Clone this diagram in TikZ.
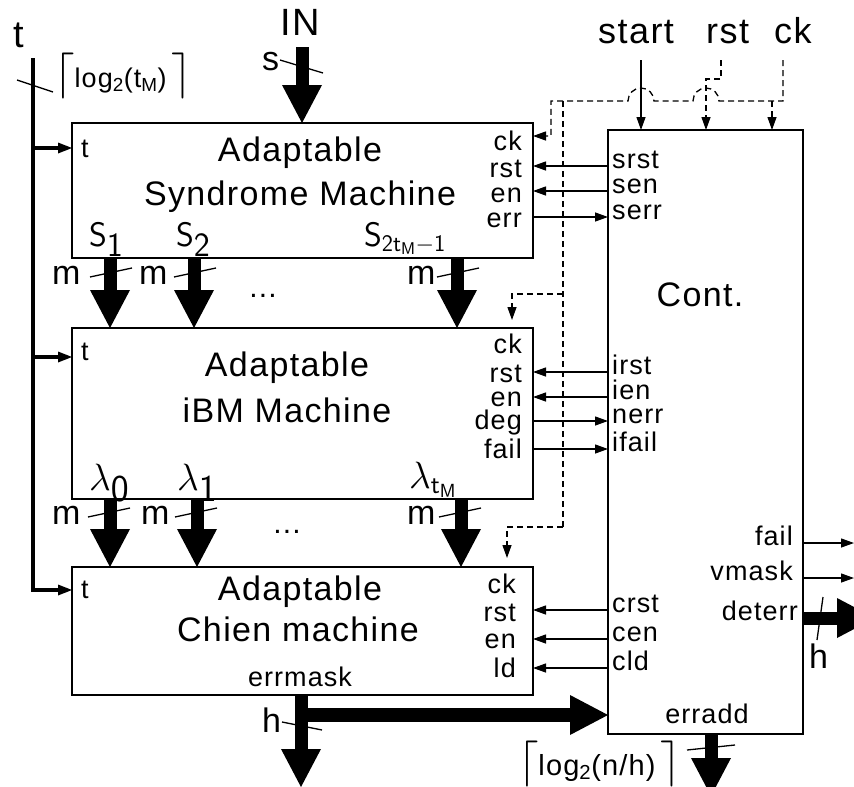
\RequirePackage{fix-cm}
\documentclass[tikz,border=0pt]{standalone}
\usepackage[no-math]{fontspec}
\newfontfamily\hv[LetterSpace=4]{Liberation Sans}
\usetikzlibrary{arrows.meta,calc}
\newcommand{\fsz}[1]{\fontsize{#1}{#1}\selectfont}
\newcommand{\ceil}[1]{{\fsz{46}$\lceil$}#1\,{\fsz{46}$\rceil$}}

\begin{document}
\begin{tikzpicture}[x=1pt,y=-1pt,
  box/.style={draw,line width=1.6pt,inner sep=0pt,outer sep=0pt},
  lbl/.style={inner sep=0pt,font=\hv\fsz{27}},
  ttl/.style={inner sep=0pt,font=\hv\fsz{34}},
  big/.style={inner sep=0pt,font=\hv\fsz{34}},
  mth/.style={inner sep=0pt,font=\fsz{34}},
  sig/.style={line width=1.3pt,-{Triangle[length=13pt,width=9pt]}},
  dsh/.style={line width=1.3pt,dash pattern=on 6pt off 4pt},
  clk/.style={dsh,-{Triangle[length=13pt,width=9pt]}},
  wide/.style={line width=13pt,-{Triangle[length=38pt,width=40pt,line width=0pt]}},
  tarr/.style={line width=3.5pt,-{Triangle[length=14pt,width=11pt,line width=0pt]}},
  slash/.style={line width=1.3pt}]
  \useasboundingbox (0,0) rectangle (854,787);
  \clip (0,0) rectangle (854,787);

  % boxes
  \node[box,minimum width=461pt,minimum height=135pt] (synd) at (302.5,190.5) {};
  \node[box,minimum width=461pt,minimum height=171pt] (ibm) at (302.5,413.5) {};
  \node[box,minimum width=461pt,minimum height=128pt] (chien) at (302.5,631) {};
  \node[box,minimum width=195pt,minimum height=604pt] (cont) at (705.5,432) {};

  % top inputs
  \node[big,font=\hv\fsz{38},anchor=base west] (tin) at (13,47) {t};
  \node[big,font=\hv\fsz{38},anchor=base] (innode) at (300,35) {IN};
  \node[big,font=\hv\fsz{36},anchor=base west] (startlbl) at (598,43) {start};
  \node[big,font=\hv\fsz{36},anchor=base west] (rstlbl) at (706,43) {rst};
  \node[big,font=\hv\fsz{36},anchor=base west] (cklbl) at (774,43) {ck};

  % syndrome machine
  \node[ttl,anchor=base] (syndA) at (300,161) {Adaptable};
  \node[ttl,anchor=base] (syndB) at (300,205) {Syndrome Machine};
  \node[lbl,anchor=base west] (syndT) at (81,157) {t};
  \node[lbl,anchor=base east] (syndCk) at (522,150) {ck};
  \node[lbl,anchor=base east] (syndRst) at (522,177) {rst};
  \node[lbl,anchor=base east] (syndEn) at (522,202) {en};
  \node[lbl,anchor=base east] (syndErr) at (522,227) {err};
  \node[mth,anchor=base west] (s1) at (89,246) {$\mathsf{S}_{\textstyle\mathsf{1}}$};
  \node[mth,anchor=base west] (s2) at (176,246) {$\mathsf{S}_{\textstyle\mathsf{2}}$};
  \node[mth,anchor=base west] (s3) at (364,246) {$\mathsf{S}_{\mathsf{2t_M-1}}$};

  % iBM machine
  \node[ttl,anchor=base] (ibmA) at (287,376) {Adaptable};
  \node[ttl,anchor=base] (ibmB) at (287,422) {iBM Machine};
  \node[lbl,anchor=base west] (ibmT) at (81,360) {t};
  \node[lbl,anchor=base east] (ibmCk) at (522,353) {ck};
  \node[lbl,anchor=base east] (ibmRst) at (522,382) {rst};
  \node[lbl,anchor=base east] (ibmEn) at (522,406) {en};
  \node[lbl,anchor=base east] (ibmDeg) at (522,429) {deg};
  \node[lbl,anchor=base east] (ibmFail) at (522,458) {fail};
  \node[mth,font=\fsz{38},anchor=base west] (l0) at (89,490) {$\lambda_{\textstyle\mathsf{0}}$};
  \node[mth,font=\fsz{38},anchor=base west] (l1) at (177,490) {$\lambda_{\textstyle\mathsf{1}}$};
  \node[mth,font=\fsz{38},anchor=base west] (l2) at (409,488) {$\lambda_{\mathsf{t_M}}$};

  % Chien machine
  \node[ttl,anchor=base] (chienA) at (300,600) {Adaptable};
  \node[ttl,anchor=base] (chienB) at (298,641) {Chien machine};
  \node[lbl,anchor=base] (chienMask) at (300,686) {errmask};
  \node[lbl,anchor=base west] (chienT) at (81,598) {t};
  \node[lbl,anchor=base east] (chienCk) at (516,593) {ck};
  \node[lbl,anchor=base east] (chienRst) at (516,621) {rst};
  \node[lbl,anchor=base east] (chienEn) at (516,648) {en};
  \node[lbl,anchor=base east] (chienLd) at (516,677) {ld};

  % controller
  \node[ttl,anchor=base] (contT) at (700,306) {Cont.};
  \node[lbl,anchor=mid west] (srst) at (612,166) {srst};
  \node[lbl,anchor=mid west] (sen) at (612,191) {sen};
  \node[lbl,anchor=mid west] (serr) at (612,217) {serr};
  \node[lbl,anchor=mid west] (irst) at (612,372) {irst};
  \node[lbl,anchor=mid west] (ien) at (612,397) {ien};
  \node[lbl,anchor=mid west] (nerr) at (612,421) {nerr};
  \node[lbl,anchor=mid west] (ifail) at (612,449) {ifail};
  \node[lbl,anchor=mid west] (crst) at (612,610) {crst};
  \node[lbl,anchor=mid west] (cen) at (612,639) {cen};
  \node[lbl,anchor=mid west] (cld) at (612,668) {cld};
  \node[lbl,anchor=mid east] (cfail) at (793,543) {fail};
  \node[lbl,anchor=mid east] (vmask) at (793,578) {vmask};
  \node[lbl,anchor=mid east] (deterr) at (798,618) {deterr};
  \node[lbl,anchor=base] (erradd) at (707,723) {erradd};

  % control signals
  \draw[sig] (srst.mid west -| cont.west) -- (srst.mid west -| synd.east);
  \draw[sig] (sen.mid west -| cont.west) -- (sen.mid west -| synd.east);
  \draw[sig] (serr.mid west -| synd.east) -- (serr.mid west -| cont.west);
  \draw[sig] (irst.mid west -| cont.west) -- (irst.mid west -| ibm.east);
  \draw[sig] (ien.mid west -| cont.west) -- (ien.mid west -| ibm.east);
  \draw[sig] (nerr.mid west -| ibm.east) -- (nerr.mid west -| cont.west);
  \draw[sig] (ifail.mid west -| ibm.east) -- (ifail.mid west -| cont.west);
  \draw[sig] (crst.mid west -| cont.west) -- (crst.mid west -| chien.east);
  \draw[sig] (cen.mid west -| cont.west) -- (cen.mid west -| chien.east);
  \draw[sig] (cld.mid west -| cont.west) -- (cld.mid west -| chien.east);
  \draw[sig] (cfail.mid east -| cont.east) -- (cfail.mid east -| 854,0);
  \draw[sig] (vmask.mid east -| cont.east) -- (vmask.mid east -| 854,0);

  % start, rst, ck
  \coordinate (startin) at (641,60);
  \coordinate (rstin) at (721,60);
  \coordinate (rstbend) at (706,79);
  \coordinate (ckin) at (783,60);
  \coordinate (ckrow) at (783,101);
  \coordinate (cksyn) at (551,136);
  \coordinate (ckcont) at (772,101);
  \coordinate (ckbus) at (563,101);
  \coordinate (ckibm) at (512,294);
  \coordinate (ckchi) at (507,527);
  \draw[sig] (startin) -- (startin |- cont.north);
  \draw[clk] (rstin) -- (rstin |- rstbend) -- (rstbend) -- (rstbend |- cont.north);
  \draw[clk] (ckin) -- (ckrow) -- ($(rstbend |- ckrow)+(13,0)$)
    arc[start angle=0,end angle=-180,radius=13] -- ($(startin |- ckrow)+(13,0)$)
    arc[start angle=0,end angle=-180,radius=13] -- (cksyn |- ckrow) -- (cksyn) -- (cksyn -| synd.east);
  \draw[clk] (ckcont) -- (ckcont |- cont.north);
  \draw[dsh] (ckbus) -- (ckbus |- ckchi);
  \draw[clk] (ckbus |- ckibm) -- (ckibm) -- ($(ckibm |- ibm.north)+(0,-8)$);
  \draw[clk] (ckbus |- ckchi) -- (ckchi) -- ($(ckchi |- chien.north)+(0,-9)$);

  % t bus
  \coordinate (bustop) at (33,58);
  \coordinate (busbot) at (33,590);
  \coordinate (tsyn) at (33,148);
  \coordinate (tibm) at (33,357);
  \draw[tarr,line width=4pt] (bustop) |- (busbot -| chien.west);
  \draw[tarr] (tsyn) -- (tsyn -| synd.west);
  \draw[tarr] (tibm) -- (tibm -| ibm.west);
  \draw[slash] (17,80) -- (53,92);
  \node[lbl,anchor=base west] (tmax) at (54,87) {\ceil{log\textsubscript{2}(t\textsubscript{M})}};

  % data input
  \coordinate (inbot) at (302,47);
  \draw[wide] (inbot) -- (inbot |- synd.north);
  \draw[slash] (280,60) -- (323,73);
  \node[big,anchor=base west] (slbl) at (262,70) {s};

  % syndromes
  \foreach \x [count=\i] in {110,194,457} {
    \draw[wide] (synd.south -| \x,0) -- (ibm.north -| \x,0);
    \draw[slash] (\x-20,277) -- (\x+22,268);
  }
  \node[big,anchor=base west] (mA1) at (52,284) {m};
  \node[big,anchor=base west] (mA2) at (139,284) {m};
  \node[big,anchor=base west] (mA3) at (407,284) {m};
  \node[big,font=\hv\fsz{30},anchor=base] (dotsA) at (263,297) {...};

  % locator coefficients
  \foreach \x [count=\i] in {110,197,461} {
    \draw[wide] (ibm.south -| \x,0) -- (chien.north -| \x,0);
    \draw[slash] (\x-22,517) -- (\x+20,508);
  }
  \node[big,anchor=base west] (mB1) at (52,524) {m};
  \node[big,anchor=base west] (mB2) at (141,524) {m};
  \node[big,anchor=base west] (mB3) at (407,524) {m};
  \node[big,font=\hv\fsz{30},anchor=base] (dotsB) at (287,533) {...};

  % outputs
  \coordinate (hout) at (301,787);
  \coordinate (hj) at (301,715);
  \draw[wide] (hout |- chien.south) -- (hout);
  \draw[wide,line width=14pt] (hj) -- (hj -| cont.west);
  \draw[slash] (282,722) -- (322,730);
  \node[big,anchor=base west] (hlbl) at (262,732) {h};

  \coordinate (aout) at (711,796);
  \draw[wide] (aout |- cont.south) -- (aout);
  \draw[slash] (687,750) -- (735,745);
  \node[lbl,font=\hv\fsz{29},anchor=base east] (nlbl) at (681,775) {\ceil{log\textsubscript{2}(n/h)}};

  \coordinate (dout) at (875,618);
  \draw[wide] (dout -| cont.east) -- (dout);
  \draw[slash] (823,597) -- (817,640);
  \node[big,anchor=base west] (hlbl2) at (809,668) {h};
\end{tikzpicture}
\end{document}
